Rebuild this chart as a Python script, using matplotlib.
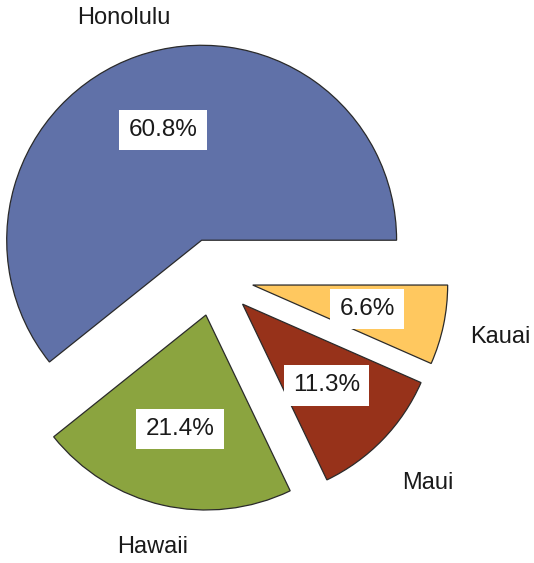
import math
import matplotlib
matplotlib.use("Agg")
from matplotlib import pyplot as plt

# datos del grafico
islas = ["Honolulu", "Hawaii", "Maui", "Kauai"]
porcentajes = [60.8, 21.4, 11.3, 6.6]
etiquetas_pct = ["60.8%", "21.4%", "11.3%", "6.6%"]

colores = ["#6071A8", "#8BA43F", "#97321A", "#FFC85F"]
separacion = [0.2, 0.2, 0.2, 0.2]
dist_etiquetas = [1.21, 1.22, 1.32, 1.30]

plt.rcParams["font.family"] = ["Liberation Sans", "DejaVu Sans"]

fig = plt.figure(figsize=(5.34, 5.63), dpi=100)
ax = fig.add_axes([0, 0, 1, 1])

wedges, textos = ax.pie(
    porcentajes,
    labels=islas,
    colors=colores,
    explode=separacion,
    startangle=0,
    counterclock=True,
    normalize=True,
    wedgeprops=dict(edgecolor="#2a2a2a", linewidth=0.9),
    textprops=dict(fontsize=17, color="#1a1a1a", ha="center", va="center"),
)

# etiquetas de nombre y porcentaje segun la geometria de cada porcion
for w, t, d, pct in zip(wedges, textos, dist_etiquetas, etiquetas_pct):
    cx, cy = w.center
    ang = math.radians(0.5 * (w.theta1 + w.theta2))
    t.set_position((cx + d * w.r * math.cos(ang), cy + d * w.r * math.sin(ang)))
    ax.text(
        cx + 0.6 * w.r * math.cos(ang),
        cy + 0.6 * w.r * math.sin(ang),
        pct,
        fontsize=17.5,
        color="#1a1a1a",
        ha="center",
        va="center",
        bbox=dict(boxstyle="square,pad=0.38", facecolor="white", edgecolor="none"),
    )

ax.set_aspect("equal")
ax.set_xlim(-1.10, 1.638)
ax.set_ylim(-1.467, 1.421)
ax.axis("off")

fig.savefig("out.png", dpi=100)
